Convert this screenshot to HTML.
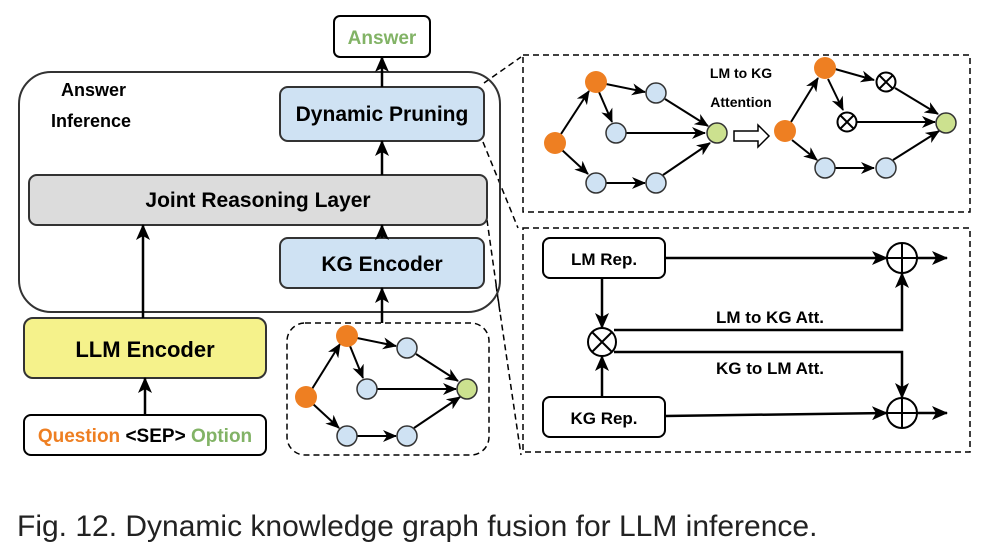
<!DOCTYPE html>
<html><head><meta charset="utf-8"><style>
body{margin:0;background:#fff}
svg text{font-family:"Liberation Sans",sans-serif;font-weight:bold}
</style></head><body>
<svg width="986" height="552" viewBox="0 0 986 552" xmlns="http://www.w3.org/2000/svg">
<defs>
<marker id="a" markerWidth="14" markerHeight="12" refX="13" refY="6" orient="auto" markerUnits="userSpaceOnUse"><path d="M0,0 L14,6 L0,12 L4,6 z" fill="#000"/></marker>
<marker id="b" markerWidth="16" markerHeight="14" refX="15" refY="7" orient="auto" markerUnits="userSpaceOnUse"><path d="M0,0 L16,7 L0,14 L4,7 z" fill="#000"/></marker>
</defs>
<g fill="none" stroke="#000" stroke-width="1.5" stroke-dasharray="6,4">
<line x1="484" y1="83" x2="521" y2="57"/>
<line x1="483" y1="142" x2="518" y2="228"/>
<line x1="487" y1="220" x2="500" y2="312"/>
<line x1="496" y1="285" x2="521" y2="455"/>
<rect x="523" y="55" width="447" height="157"/>
<rect x="523" y="228" width="447" height="224"/>
<rect x="287" y="323" width="202" height="132" rx="18"/>
</g>
<rect x="19" y="72" width="481" height="240" rx="32" fill="none" stroke="#333" stroke-width="2"/>
<text x="61" y="96" font-size="18">Answer</text>
<text x="51" y="127" font-size="18">Inference</text>
<rect x="334" y="16" width="96" height="41" rx="6" fill="#fff" stroke="#000" stroke-width="2"/>
<text x="382" y="44" font-size="19" fill="#82b366" text-anchor="middle">Answer</text>
<rect x="280" y="87" width="204" height="54" rx="8" fill="#cfe2f3" stroke="#333" stroke-width="2"/>
<text x="382" y="121" font-size="21" text-anchor="middle">Dynamic Pruning</text>
<rect x="29" y="175" width="458" height="50" rx="8" fill="#dcdcdc" stroke="#333" stroke-width="2"/>
<text x="258" y="207" font-size="21" text-anchor="middle">Joint Reasoning Layer</text>
<rect x="280" y="238" width="204" height="50" rx="8" fill="#cfe2f3" stroke="#333" stroke-width="2"/>
<text x="382" y="271" font-size="21" text-anchor="middle">KG Encoder</text>
<rect x="24" y="318" width="242" height="60" rx="9" fill="#f5f28b" stroke="#333" stroke-width="2"/>
<text x="145" y="357" font-size="22" text-anchor="middle">LLM Encoder</text>
<rect x="24" y="415" width="242" height="40" rx="7" fill="#fff" stroke="#000" stroke-width="2"/>
<text x="145" y="442" font-size="19" text-anchor="middle"><tspan fill="#ee7f22">Question</tspan> &lt;SEP&gt; <tspan fill="#82b366">Option</tspan></text>
<g stroke="#000" stroke-width="2.5" marker-end="url(#b)">
<line x1="382" y1="87" x2="382" y2="57"/>
<line x1="382" y1="175" x2="382" y2="141"/>
<line x1="382" y1="238" x2="382" y2="225"/>
<line x1="382" y1="323" x2="382" y2="288"/>
<line x1="143" y1="318" x2="143" y2="225"/>
<line x1="145" y1="415" x2="145" y2="378"/>
</g>
<g stroke="#000" stroke-width="2" marker-end="url(#a)">
<line x1="312" y1="389" x2="340" y2="344"/><line x1="357" y1="338" x2="396" y2="346"/><line x1="350" y1="346" x2="363" y2="378"/>
<line x1="377" y1="389" x2="456" y2="389"/><line x1="416" y1="354" x2="458" y2="381"/><line x1="313" y1="404" x2="339" y2="428"/>
<line x1="357" y1="436" x2="396" y2="436"/><line x1="414" y1="428" x2="460" y2="397"/>
<line x1="561" y1="134" x2="589" y2="91"/><line x1="606" y1="84" x2="645" y2="92"/><line x1="599" y1="92" x2="612" y2="122"/>
<line x1="626" y1="133" x2="705" y2="133"/><line x1="665" y1="99" x2="708" y2="126"/><line x1="562" y1="150" x2="588" y2="174"/>
<line x1="606" y1="183" x2="645" y2="183"/><line x1="663" y1="175" x2="710" y2="143"/>
<line x1="791" y1="122" x2="818" y2="78"/><line x1="835" y1="69" x2="874" y2="80"/><line x1="828" y1="79" x2="843" y2="110"/>
<line x1="857" y1="122" x2="935" y2="122"/><line x1="895" y1="88" x2="938" y2="114"/><line x1="792" y1="140" x2="817" y2="160"/>
<line x1="835" y1="168" x2="874" y2="168"/><line x1="893" y1="160" x2="939" y2="131"/>
</g>
<g stroke="#333" stroke-width="1.5">
<circle cx="306" cy="397" r="11" fill="#ee7f22" stroke="none"/><circle cx="347" cy="336" r="11" fill="#ee7f22" stroke="none"/>
<circle cx="407" cy="348" r="10" fill="#cfe2f3"/><circle cx="367" cy="389" r="10" fill="#cfe2f3"/><circle cx="467" cy="389" r="10" fill="#cce18f"/>
<circle cx="347" cy="436" r="10" fill="#cfe2f3"/><circle cx="407" cy="436" r="10" fill="#cfe2f3"/>
<circle cx="555" cy="143" r="11" fill="#ee7f22" stroke="none"/><circle cx="596" cy="82" r="11" fill="#ee7f22" stroke="none"/>
<circle cx="656" cy="93" r="10" fill="#cfe2f3"/><circle cx="616" cy="133" r="10" fill="#cfe2f3"/><circle cx="717" cy="133" r="10" fill="#cce18f"/>
<circle cx="596" cy="183" r="10" fill="#cfe2f3"/><circle cx="656" cy="183" r="10" fill="#cfe2f3"/>
<circle cx="785" cy="131" r="11" fill="#ee7f22" stroke="none"/><circle cx="825" cy="68" r="11" fill="#ee7f22" stroke="none"/>
<circle cx="946" cy="123" r="10" fill="#cce18f"/>
<circle cx="825" cy="168" r="10" fill="#cfe2f3"/><circle cx="886" cy="168" r="10" fill="#cfe2f3"/>
</g>
<g stroke="#000" stroke-width="2" fill="#fff">
<circle cx="886" cy="82" r="9.5"/><path d="M879,75 L893,89 M893,75 L879,89"/>
<circle cx="847" cy="122" r="9.5"/><path d="M840,115 L854,129 M854,115 L840,129"/>
</g>
<path d="M734,131 L758,131 L758,125 L769,136 L758,147 L758,141 L734,141 z" fill="#fff" stroke="#000" stroke-width="1.5"/>
<text x="741" y="78" font-size="14" text-anchor="middle">LM to KG</text>
<text x="741" y="107" font-size="14" text-anchor="middle">Attention</text>
<rect x="543" y="238" width="122" height="40" rx="7" fill="#fff" stroke="#000" stroke-width="2"/>
<text x="604" y="265" font-size="17" text-anchor="middle">LM Rep.</text>
<rect x="543" y="397" width="122" height="40" rx="7" fill="#fff" stroke="#000" stroke-width="2"/>
<text x="604" y="424" font-size="17" text-anchor="middle">KG Rep.</text>
<g stroke="#000" stroke-width="2.5" fill="none" marker-end="url(#b)">
<line x1="665" y1="258" x2="887" y2="258"/>
<line x1="665" y1="416" x2="887" y2="413"/>
<line x1="917" y1="258" x2="947" y2="258"/>
<line x1="917" y1="413" x2="947" y2="413"/>
<line x1="602" y1="278" x2="602" y2="328"/>
<line x1="602" y1="397" x2="602" y2="356"/>
<polyline points="614,330 902,330 902,273"/>
<polyline points="614,352 902,352 902,398"/>
</g>
<g stroke="#000" stroke-width="2" fill="#fff">
<circle cx="602" cy="342" r="14"/><path d="M592,332 L612,352 M612,332 L592,352"/>
<circle cx="902" cy="258" r="15"/><path d="M887,258 H917 M902,243 V273"/>
<circle cx="902" cy="413" r="15"/><path d="M887,413 H917 M902,398 V428"/>
</g>
<text x="770" y="323" font-size="17" text-anchor="middle">LM to KG Att.</text>
<text x="770" y="374" font-size="17" text-anchor="middle">KG to LM Att.</text>
<text x="17" y="536" font-size="30" fill="#222" style="font-weight:normal">Fig. 12. Dynamic knowledge graph fusion for LLM inference.</text>
</svg>
</body></html>
